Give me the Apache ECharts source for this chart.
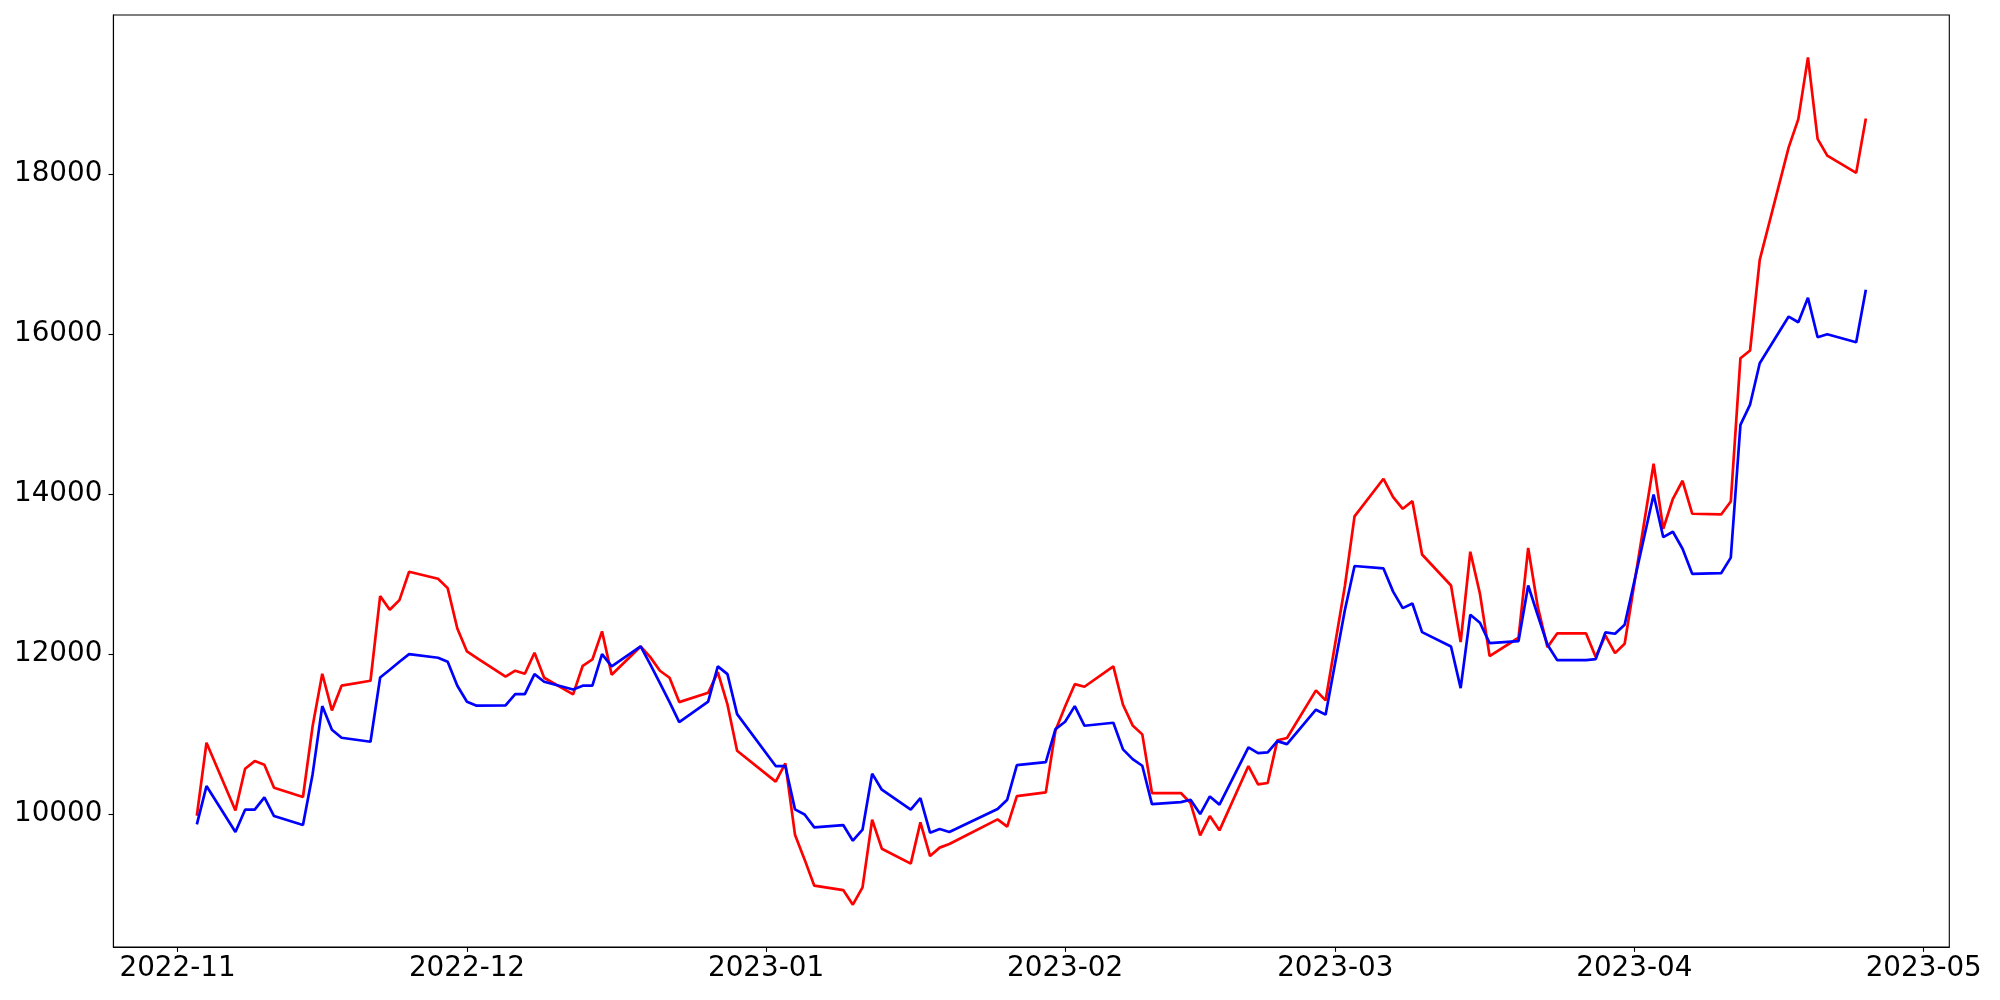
<!DOCTYPE html>
<html><head><meta charset="utf-8">
<script src="https://cdn.jsdelivr.net/npm/echarts@6/dist/echarts.min.js"></script>
<style>html,body{margin:0;padding:0;background:#fff}#c{width:2000px;height:1000px}</style>
</head><body><div id="c"></div>
<script>
const dates = [
'2022-11-03','2022-11-04','2022-11-07','2022-11-08','2022-11-09','2022-11-10','2022-11-11','2022-11-14','2022-11-15','2022-11-16',
'2022-11-17','2022-11-18','2022-11-21','2022-11-22','2022-11-23','2022-11-24','2022-11-25','2022-11-28','2022-11-29','2022-11-30',
'2022-12-01','2022-12-02','2022-12-05','2022-12-06','2022-12-07','2022-12-08','2022-12-09','2022-12-12','2022-12-13','2022-12-14',
'2022-12-15','2022-12-16','2022-12-19','2022-12-20','2022-12-21','2022-12-22','2022-12-23','2022-12-26','2022-12-27','2022-12-28','2022-12-29',
'2023-01-02','2023-01-03','2023-01-04','2023-01-05','2023-01-06','2023-01-09','2023-01-10','2023-01-11','2023-01-12','2023-01-13',
'2023-01-16','2023-01-17','2023-01-18','2023-01-19','2023-01-20','2023-01-25','2023-01-26','2023-01-27','2023-01-30','2023-01-31',
'2023-02-01','2023-02-02','2023-02-03','2023-02-06','2023-02-07','2023-02-08','2023-02-09','2023-02-10','2023-02-13','2023-02-14',
'2023-02-15','2023-02-16','2023-02-17','2023-02-20','2023-02-21','2023-02-22','2023-02-23','2023-02-24','2023-02-27','2023-02-28',
'2023-03-02','2023-03-03','2023-03-06','2023-03-07','2023-03-08','2023-03-09','2023-03-10','2023-03-13','2023-03-14','2023-03-15',
'2023-03-16','2023-03-17','2023-03-20','2023-03-21','2023-03-22','2023-03-23','2023-03-24','2023-03-27','2023-03-28','2023-03-29','2023-03-30','2023-03-31',
'2023-04-03','2023-04-04','2023-04-05','2023-04-06','2023-04-07','2023-04-10','2023-04-11','2023-04-12','2023-04-13','2023-04-14',
'2023-04-17','2023-04-18','2023-04-19','2023-04-20','2023-04-21','2023-04-24','2023-04-25'
];
const redValues = [
9981,10893,10047,10568,10663,10618,10331,10214,11100,11754,11296,11605,11667,12724,12554,12674,13028,12941,12824,12320,
12033,11954,11717,11792,11754,12016,11704,11496,11854,11933,12283,11742,12095,11962,11792,11704,11400,11517,11775,11371,10793,
10406,10634,9744,9432,9107,9052,8870,9086,9931,9569,9382,9898,9477,9582,9627,9935,9844,10226,10272,11046,
11346,11624,11592,11846,11367,11109,10997,10264,10264,10139,9735,9976,9798,10601,10372,10389,10922,10951,11546,11421,
12850,13720,14190,13960,13815,13910,13244,12857,12149,13278,12753,11974,12204,13325,12586,12087,12258,12258,11962,12233,12012,12129,
14377,13565,13940,14165,13753,13744,13906,15696,15792,16924,18330,18683,19454,18435,18227,18011,18689
];
const blueValues = [
9873,10351,9777,10056,10056,10210,9977,9864,10500,11350,11055,10955,10905,11708,11804,11904,11999,11954,11904,11605,
11405,11355,11359,11500,11500,11750,11654,11558,11605,11605,11999,11846,12095,11870,11637,11400,11150,11405,11846,11750,11250,
10601,10601,10060,9996,9835,9864,9669,9806,10506,10306,10056,10201,9769,9814,9777,10064,10181,10613,10651,11063,
11155,11350,11105,11142,10809,10688,10605,10126,10151,10181,10001,10222,10119,10834,10763,10772,10913,10875,11305,11243,
12550,13100,13070,12780,12574,12632,12274,12095,11575,12491,12391,12137,12162,12857,12482,12117,11925,11925,11937,12270,12254,12366,
13993,13460,13528,13316,13003,13010,13205,14864,15117,15633,16216,16145,16450,15958,15995,15895,16550
];
const xTickDates = ['2022-11-01','2022-12-01','2023-01-01','2023-02-01','2023-03-01','2023-04-01','2023-05-01'];
const yTickValues = [10000,12000,14000,16000,18000];

const ts = dates.map(d => Date.parse(d));
const xSpan = ts[ts.length-1] - ts[0];
const xMin = ts[0] - 0.05*xSpan, xMax = ts[ts.length-1] + 0.05*xSpan;
const allV = redValues.concat(blueValues);
const vMin = Math.min(...allV), vMax = Math.max(...allV);
const ySpan = vMax - vMin;
const yMin = vMin - 0.05*ySpan, yMax = vMax + 0.05*ySpan;
const xTicks = xTickDates.map(d => Date.parse(d));

const font = {fontFamily: 'DejaVu Sans', fontSize: 27.8, color: '#000'};
const chart = echarts.init(document.getElementById('c'), null, {renderer: 'canvas'});
chart.setOption({
  animation: false,
  backgroundColor: '#fff',
  grid: {left: 113.4, right: 50.7, top: 15, bottom: 53, show: true, borderColor: '#000', borderWidth: 1.1, containLabel: false, outerBoundsMode: 'none'},
  xAxis: {
    type: 'value', min: xMin, max: xMax, scale: true,
    axisLine: {show: true, onZero: false, lineStyle: {color: '#000', width: 1.1}},
    axisTick: {show: true, customValues: xTicks, length: 4.9, lineStyle: {color: '#000', width: 1.1}},
    axisLabel: Object.assign({customValues: xTicks, margin: 8, hideOverlap: false,
      formatter: v => { const d = new Date(v); return d.getUTCFullYear() + '-' + String(d.getUTCMonth()+1).padStart(2,'0'); }}, font),
    splitLine: {show: false}
  },
  yAxis: {
    type: 'value', min: yMin, max: yMax, scale: true,
    axisLine: {show: true, onZero: false, lineStyle: {color: '#000', width: 1.1}},
    axisTick: {show: true, customValues: yTickValues, length: 4.9, lineStyle: {color: '#000', width: 1.1}},
    axisLabel: Object.assign({customValues: yTickValues, margin: 11, formatter: v => String(v)}, font),
    splitLine: {show: false}
  },
  series: [
    {type: 'line', data: ts.map((t,i) => [t, redValues[i]]), showSymbol: false, symbol: 'none', lineStyle: {color: '#ff0000', width: 2.7}, itemStyle: {color: '#ff0000'}},
    {type: 'line', data: ts.map((t,i) => [t, blueValues[i]]), showSymbol: false, symbol: 'none', lineStyle: {color: '#0000ff', width: 2.7}, itemStyle: {color: '#0000ff'}}
  ]
});
</script></body></html>
